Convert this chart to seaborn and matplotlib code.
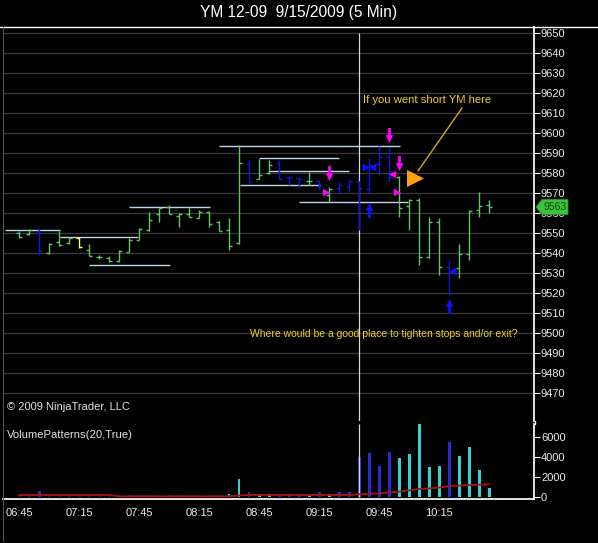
import numpy as np
import pandas as pd
import matplotlib
matplotlib.use("Agg")
import matplotlib.pyplot as plt
from matplotlib.path import Path
from matplotlib.patches import Polygon
from matplotlib.lines import Line2D
import seaborn as sns

# ---------------- data ----------------
title = "YM 12-09  9/15/2009 (5 Min)"
tick_bars = [0, 6, 12, 18, 24, 30, 36, 42]
tick_labels = ["06:45", "07:15", "07:45", "08:15", "08:45", "09:15", "09:45", "10:15"]

opens = [9550, 9549.5, 9551, 9540, 9545.5, 9545, 9547.5, 9541.5, 9538, 9537.5,
         9536, 9540.5, 9546.5, 9551.5, 9559.5, 9563, 9558.5, 9559.5, 9557.5, 9560.5,
         9555.5, 9551.5, 9545, 9584.5, 9577, 9580, 9585, 9578, 9577.5, 9576,
         9576, 9569, 9572.5, 9573, 9576, 9572, 9584.5, 9588, 9578, 9563.5,
         9566.5, 9538, 9555.5, 9533, 9532.5, 9539.5, 9561.5, 9564]
highs = [9551, 9552, 9552, 9545, 9551, 9548, 9548, 9544.5, 9539, 9538.5,
         9541.5, 9547.5, 9552.5, 9560.5, 9562.5, 9564, 9560, 9563, 9561.5, 9561,
         9556, 9557.5, 9594, 9586.5, 9587, 9586.5, 9586.5, 9578.5, 9577.5, 9580.5,
         9576.5, 9573, 9575.5, 9577, 9576, 9587.5, 9593.5, 9593, 9578.5, 9567,
         9567.5, 9558, 9557.5, 9536.5, 9544.5, 9561.5, 9570.5, 9566.5]
lows = [9547.5, 9549, 9539, 9539.5, 9543.5, 9544.5, 9542.5, 9538.5, 9537, 9535.5,
        9535.5, 9540.5, 9546.5, 9551, 9555.5, 9559.5, 9553, 9558, 9557.5, 9553,
        9551, 9541.5, 9544.5, 9575, 9577, 9579.5, 9576.5, 9574, 9572.5, 9574,
        9571.5, 9565.5, 9570, 9571, 9551.5, 9570, 9579, 9575.5, 9558, 9551.5,
        9534, 9537.5, 9529, 9519, 9527.5, 9536.5, 9558, 9560]
closes = [9548, 9551.5, 9541, 9544.5, 9544, 9547.5, 9543, 9538.5, 9538, 9536,
          9541, 9546.5, 9552, 9556.5, 9562.5, 9559.5, 9559.5, 9558, 9560.5, 9554.5,
          9551, 9543.5, 9585, 9575.5, 9579, 9584, 9577, 9578, 9577, 9576,
          9573, 9572, 9574, 9576, 9572.5, 9584, 9588, 9578, 9562.5, 9566.5,
          9538, 9555.5, 9533, 9531, 9539.5, 9561, 9563.5, 9563]
bar_kind = ["g", "g", "b", "g", "g", "g", "y", "g", "g", "g",
            "g", "g", "g", "g", "g", "g", "g", "g", "g", "g",
            "g", "g", "g", "b", "g", "g", "b", "b", "b", "g",
            "b", "g", "b", "b", "b", "b", "b", "b", "g", "g",
            "g", "g", "g", "b", "g", "g", "g", "g"]

volumes = [150, 150, 600, 150, 150, 150, 150, 150, 150, 150,
           150, 150, 150, 150, 150, 150, 150, 150, 150, 150,
           150, 270, 1770, 430, 270, 250, 270, 270, 270, 200,
           430, 270, 500, 500, 4000, 4330, 3100, 4430, 3900, 4230,
           7270, 3000, 3100, 5430, 4100, 5000, 2670, 900]
vol_kind = ["normal", "normal", "blue"] + ["normal"] * 18 + \
           ["cyan", "cyan", "blue", "cyan", "cyan", "blue", "blue", "blue", "cyan",
            "blue", "cyan", "blue", "blue", "blue", "blue", "blue", "blue",
            "cyan", "cyan", "cyan", "cyan", "cyan", "blue", "cyan", "cyan", "cyan", "cyan"]
vol_avg = [167] * 10 + [35] * 12 + [120] + [167] * 11 + \
          [233, 280, 333, 420, 500, 630, 767, 830, 900, 1067, 1100, 1167, 1200, 1233]

# support / resistance lines (price, start bar, end bar)
sr_level = [9551.5, 9548, 9534, 9563, 9593.5, 9574, 9587.5, 9581, 9565.5]
sr_start = [-1.4, 4.1, 7.0, 11.0, 20.0, 22.1, 24.0, 25.0, 28.0]
sr_end = [4.1, 11.9, 15.1, 19.1, 38.1, 30.1, 32.0, 33.0, 38.9]

# signal markers
mag_down_x = [31, 37, 38]
mag_down_y = [9580, 9599, 9585]
mag_right_x = [30.7, 37.8]
mag_right_y = [9570.5, 9570.5]
mag_left_x = [37.3]
mag_left_y = [9579.5]
blue_up_x = [35, 43]
blue_up_y = [9561.5, 9513.5]
blue_right_x = [34.7]
blue_right_y = [9583]
blue_left_x = [35.3, 43.3]
blue_left_y = [9583, 9531]
entry_x = [39.6]
entry_y = [9577.5]

note1 = "If you went short YM here"
note2 = "Where would be a good place to tighten stops and/or exit?"
copyright_txt = "\u00a9 2009 NinjaTrader, LLC"
ind_txt = "VolumePatterns(20,True)"
session_line_bar = 34
price_ticks = list(range(9470, 9651, 10))
vol_ticks = [0, 2000, 4000, 6000]

# ---------------- style ----------------
sns.set_theme(style="dark")
plt.rcParams["font.family"] = ["Liberation Sans", "DejaVu Sans"]

W, H = 598, 543
fig = plt.figure(figsize=(W / 100, H / 100), dpi=100, facecolor="black")


def fx(px):
    return px / W


def fy(py):
    return 1 - py / H


ax = fig.add_axes([fx(3), fy(421), fx(534) - fx(3), fy(27) - fy(421)])
axv = fig.add_axes([fx(3), fy(499), fx(534) - fx(3), fy(424) - fy(499)])

GREEN = "#62c462"
BLUE = "#1414dc"
YELLOW = "#ffff60"
colors = {"g": GREEN, "b": BLUE, "y": YELLOW}

idx = np.arange(len(opens))
bcol = [colors[k] for k in bar_kind]

for a in (ax, axv):
    a.set_facecolor("black")
    for s in a.spines.values():
        s.set_visible(False)

# grid
ax.set_yticks(price_ticks)
ax.grid(False)
for p in price_ticks:
    ax.axhline(p, color="#3a3a3a", lw=0.9, zorder=0)

# support/resistance lines
ax.hlines(sr_level, sr_start, sr_end, colors="#b8d8ee", lw=1.0, zorder=1)

# OHLC bars
ax.vlines(idx, lows, highs, colors=bcol, lw=1.0, zorder=3)
ax.hlines(opens, idx - 0.32, idx, colors=bcol, lw=1.0, zorder=3)
ax.hlines(closes, idx, idx + 0.32, colors=bcol, lw=1.0, zorder=3)

# session vertical line
ax.vlines([session_line_bar], 9456, 9650, colors="#d8d8d8", lw=0.9, zorder=2)
axv.vlines([session_line_bar], 0, 7270, colors="#d8d8d8", lw=0.9, zorder=2)

# arrow markers
down_arrow = Path([(-0.18, 1), (0.18, 1), (0.18, 0.05), (0.5, 0.05), (0, -1),
                   (-0.5, 0.05), (-0.18, 0.05), (-0.18, 1)],
                  [Path.MOVETO] + [Path.LINETO] * 6 + [Path.CLOSEPOLY])
up_arrow = Path([(x, -y) for x, y in down_arrow.vertices], down_arrow.codes)

ax.scatter(mag_down_x, mag_down_y, marker=down_arrow, s=120, c="#ff00ff", lw=0, zorder=5)
ax.scatter(blue_up_x, blue_up_y, marker=up_arrow, s=120, c="#1010ff", lw=0, zorder=5)
ax.scatter(mag_right_x, mag_right_y, marker=">", s=28, c="#ff00ff", lw=0, zorder=5)
ax.scatter(mag_left_x, mag_left_y, marker="<", s=28, c="#ff00ff", lw=0, zorder=5)
ax.scatter(blue_right_x, blue_right_y, marker=">", s=30, c="#1010ff", lw=0, zorder=5)
ax.scatter(blue_left_x, blue_left_y, marker="<", s=30, c="#1010ff", lw=0, zorder=5)
ax.scatter(entry_x, entry_y, marker=">", s=150, c="#ffa010", lw=0, zorder=6)

# annotation
ax.plot([44.3, 39.9], [9612.5, 9581], color="#e0a020", lw=1.0, zorder=6)
ax.text(34.4, 9616.5, note1, color="#f0d020", fontsize=8.1, va="center", ha="left")
ax.text(23.1, 9499.5, note2, color="#f0d020", fontsize=7.5, va="center", ha="left")

ax.set_xlim(-1.6, 51.5)
ax.set_ylim(9456, 9653)
ax.yaxis.tick_right()
ax.tick_params(axis="y", colors="white", labelcolor="#e8e8e8", labelsize=8,
               direction="out", length=4, width=0.8, pad=1)
ax.tick_params(axis="x", bottom=False, labelbottom=False)
ax.spines["right"].set_visible(True)
ax.spines["right"].set_color("white")

# last price tag
tag = Polygon([(51.7, 9563), (52.3, 9566.8), (54.9, 9566.8), (54.9, 9559.2), (52.3, 9559.2)],
              closed=True, facecolor="#3cc23c", edgecolor="#2a8a2a", lw=0.6,
              clip_on=False, zorder=20)
ax.add_patch(tag)
ax.text(53.6, 9562.8, f"{closes[-1]:.0f}", color="#0b4d0b", fontsize=7.5,
        ha="center", va="center", zorder=21, clip_on=False)

# ---------------- volume panel ----------------
vol_df = pd.DataFrame({"bar": idx, "volume": volumes, "kind": vol_kind})
vol_palette = {"normal": "#0c2c0c", "blue": "#1010e8", "cyan": "#1ee8e8"}
sns.barplot(data=vol_df, x="bar", y="volume", hue="kind", palette=vol_palette,
            native_scale=True, width=0.3, dodge=False, errorbar=None,
            legend=False, linewidth=0, ax=axv)
avg_df = pd.DataFrame({"bar": idx, "avg": vol_avg})
sns.lineplot(data=avg_df, x="bar", y="avg", color="#a81414", lw=1.3, ax=axv, zorder=4)

axv.set_xlim(-1.6, 51.5)
axv.set_ylim(-233, 7270)
axv.set_xlabel("")
axv.set_ylabel("")
axv.set_xticks(tick_bars)
axv.set_xticklabels(tick_labels)
axv.set_yticks(vol_ticks)
axv.set_yticklabels([str(v) for v in vol_ticks])
axv.yaxis.tick_right()
axv.tick_params(axis="y", colors="white", labelcolor="#e8e8e8", labelsize=8,
                direction="out", length=4, width=0.8, pad=1)
axv.tick_params(axis="x", colors="white", labelcolor="#e8e8e8", labelsize=8,
                direction="out", length=5, width=0.8, pad=1.5)
axv.spines["right"].set_visible(True)
axv.spines["right"].set_color("white")
axv.spines["bottom"].set_visible(True)
axv.spines["bottom"].set_color("white")
axv.grid(False)

# ---------------- frame & texts ----------------
fig.add_artist(Line2D([fx(0), 1], [fy(27), fy(27)], color="white", lw=1.0))
fig.add_artist(Line2D([fx(534.5), fx(534.5)], [fy(421), fy(424)], color="white", lw=1.0))
fig.add_artist(Line2D([fx(2.5), fx(2.5)], [fy(27), fy(541)], color="#505050", lw=0.8))
fig.text(0.5, fy(13), title, color="white", fontsize=11.2, ha="center", va="center")
fig.text(fx(7), fy(407), copyright_txt, color="#e0e0e0", fontsize=8.0, ha="left", va="center")
fig.text(fx(7), fy(435), ind_txt, color="#e0e0e0", fontsize=8.1, ha="left", va="center")

fig.savefig("out.png", dpi=100, facecolor="black")
